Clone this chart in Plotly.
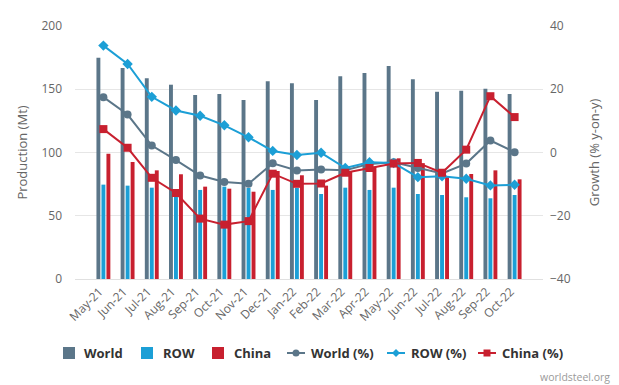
import plotly.graph_objects as go

months = ["May-21", "Jun-21", "Jul-21", "Aug-21", "Sep-21", "Oct-21", "Nov-21", "Dec-21",
          "Jan-22", "Feb-22", "Mar-22", "Apr-22", "May-22", "Jun-22", "Jul-22", "Aug-22",
          "Sep-22", "Oct-22"]

world = [175.0, 166.8, 158.7, 153.6, 145.5, 146.2, 141.5, 156.3, 154.7, 141.5,
         160.2, 162.8, 168.4, 157.9, 148.0, 148.8, 150.4, 146.2]
row = [74.6, 73.8, 72.2, 69.0, 70.4, 73.0, 72.0, 70.4, 72.0, 67.2,
       72.2, 70.4, 72.2, 67.2, 66.4, 64.6, 63.8, 66.4]
china = [99.0, 92.5, 85.9, 82.8, 73.0, 71.4, 69.0, 85.4, 82.0, 73.8,
         85.4, 88.8, 95.4, 91.6, 80.9, 83.0, 85.9, 78.8]

world_pct = [17.5, 12.0, 2.2, -2.4, -7.3, -9.3, -9.9, -3.4, -5.7, -5.4,
             -5.6, -3.6, -3.1, -4.9, -6.6, -3.5, 3.8, 0.1]
row_pct = [33.8, 28.0, 17.6, 13.3, 11.6, 8.6, 4.8, 0.5, -0.8, -0.1,
           -4.9, -3.1, -3.3, -7.8, -7.5, -8.3, -10.4, -10.2]
china_pct = [7.4, 1.5, -8.0, -12.8, -20.9, -22.8, -21.7, -6.7, -9.9, -9.8,
             -6.4, -4.9, -3.5, -3.3, -6.4, 0.9, 17.8, 11.2]

C_WORLD = "#5b7689"
C_ROW = "#1c9fd6"
C_CHINA = "#c8202f"

W, H = 619, 385
ML, MR, MT, MB = 75, 76, 26, 106
PW, PH = W - ML - MR, H - MT - MB


def px(x):
    return (x - ML) / PW


def py(y):
    return (H - MB - y) / PH


fig = go.Figure()
fig.add_trace(go.Bar(x=months, y=world, name="World", marker_color=C_WORLD, marker_line_width=0))
fig.add_trace(go.Bar(x=months, y=row, name="ROW", marker_color=C_ROW, marker_line_width=0))
fig.add_trace(go.Bar(x=months, y=china, name="China", marker_color=C_CHINA, marker_line_width=0))

fig.add_trace(go.Scatter(x=months, y=world_pct, name="World (%)", yaxis="y2", mode="lines+markers",
                         line=dict(color=C_WORLD, width=2),
                         marker=dict(symbol="circle", size=8, color=C_WORLD)))
fig.add_trace(go.Scatter(x=months, y=row_pct, name="ROW (%)", yaxis="y2", mode="lines+markers",
                         line=dict(color=C_ROW, width=2),
                         marker=dict(symbol="diamond", size=8, color=C_ROW)))
fig.add_trace(go.Scatter(x=months, y=china_pct, name="China (%)", yaxis="y2", mode="lines+markers",
                         line=dict(color=C_CHINA, width=2),
                         marker=dict(symbol="square", size=8, color=C_CHINA)))

fig.update_layout(
    width=W, height=H,
    margin=dict(l=ML, r=MR, t=MT, b=MB),
    paper_bgcolor="white", plot_bgcolor="white",
    font=dict(family="Open Sans", color="#666666", size=12),
    barmode="group", bargap=0.38, bargroupgap=0.22,
    showlegend=False,
    xaxis=dict(tickangle=-45, tickfont=dict(size=12, color="#666666"), showgrid=False,
               showline=True, linecolor="#e0e0e0", ticks="", automargin=False,
               ticklabelshift=-4),
    yaxis=dict(range=[0, 200], dtick=50, showgrid=True, gridcolor="#e6e6e6", zeroline=False,
               automargin=False, ticklabelstandoff=12,
               title=dict(text="Production (Mt)", font=dict(size=13, color="#666666"), standoff=10),
               tickfont=dict(size=12, color="#666666")),
    yaxis2=dict(range=[-40, 40], dtick=20, overlaying="y", side="right", showgrid=False,
                zeroline=False, automargin=False, ticklabelstandoff=6,
                title=dict(text="Growth (% y-on-y)", font=dict(size=13, color="#666666"), standoff=20),
                tickfont=dict(size=12, color="#666666")),
)

# Custom legend (decoration only)
LEG_Y = 353
legend_items = [
    ("World", "bar", C_WORLD, None, 69, 82),
    ("ROW", "bar", C_ROW, None, 147, 161),
    ("China", "bar", C_CHINA, None, 218, 232),
    ("World (%)", "line", C_WORLD, "circle", 296, 309),
    ("ROW (%)", "line", C_ROW, "diamond", 396, 409),
    ("China (%)", "line", C_CHINA, "square", 487, 500),
]
shapes = []
for name, kind, col, sym, cx, tx in legend_items:
    if kind == "bar":
        shapes.append(dict(type="rect", xref="paper", yref="paper",
                           x0=px(cx - 6), x1=px(cx + 6), y0=py(LEG_Y + 6), y1=py(LEG_Y - 6),
                           fillcolor=col, line=dict(width=0)))
    else:
        shapes.append(dict(type="line", xref="paper", yref="paper",
                           x0=px(cx - 9), x1=px(cx + 9), y0=py(LEG_Y), y1=py(LEG_Y),
                           line=dict(color=col, width=2)))
        r = 3.5
        if sym == "circle":
            shapes.append(dict(type="circle", xref="paper", yref="paper",
                               x0=px(cx - r), x1=px(cx + r), y0=py(LEG_Y + r), y1=py(LEG_Y - r),
                               fillcolor=col, line=dict(width=0)))
        elif sym == "square":
            shapes.append(dict(type="rect", xref="paper", yref="paper",
                               x0=px(cx - r), x1=px(cx + r), y0=py(LEG_Y + r), y1=py(LEG_Y - r),
                               fillcolor=col, line=dict(width=0)))
        else:
            d = 4
            path = "M {} {} L {} {} L {} {} L {} {} Z".format(
                px(cx), py(LEG_Y - d), px(cx + d), py(LEG_Y), px(cx), py(LEG_Y + d), px(cx - d), py(LEG_Y))
            shapes.append(dict(type="path", xref="paper", yref="paper", path=path,
                               fillcolor=col, line=dict(width=0)))
    fig.add_annotation(text="<b>%s</b>" % name, xref="paper", yref="paper", x=px(tx), y=py(LEG_Y),
                       xanchor="left", yanchor="middle", showarrow=False,
                       font=dict(size=13, color="#333333", family="Open Sans"))
fig.update_layout(shapes=shapes)

fig.add_annotation(text="worldsteel.org", xref="paper", yref="paper", x=px(612), y=py(377),
                   xanchor="right", yanchor="middle", showarrow=False,
                   font=dict(size=10.5, color="#9a9a9a"))

fig.write_html("out.html", config={"displayModeBar": False},
               post_script="document.body.style.margin='0';document.body.style.padding='0';")
